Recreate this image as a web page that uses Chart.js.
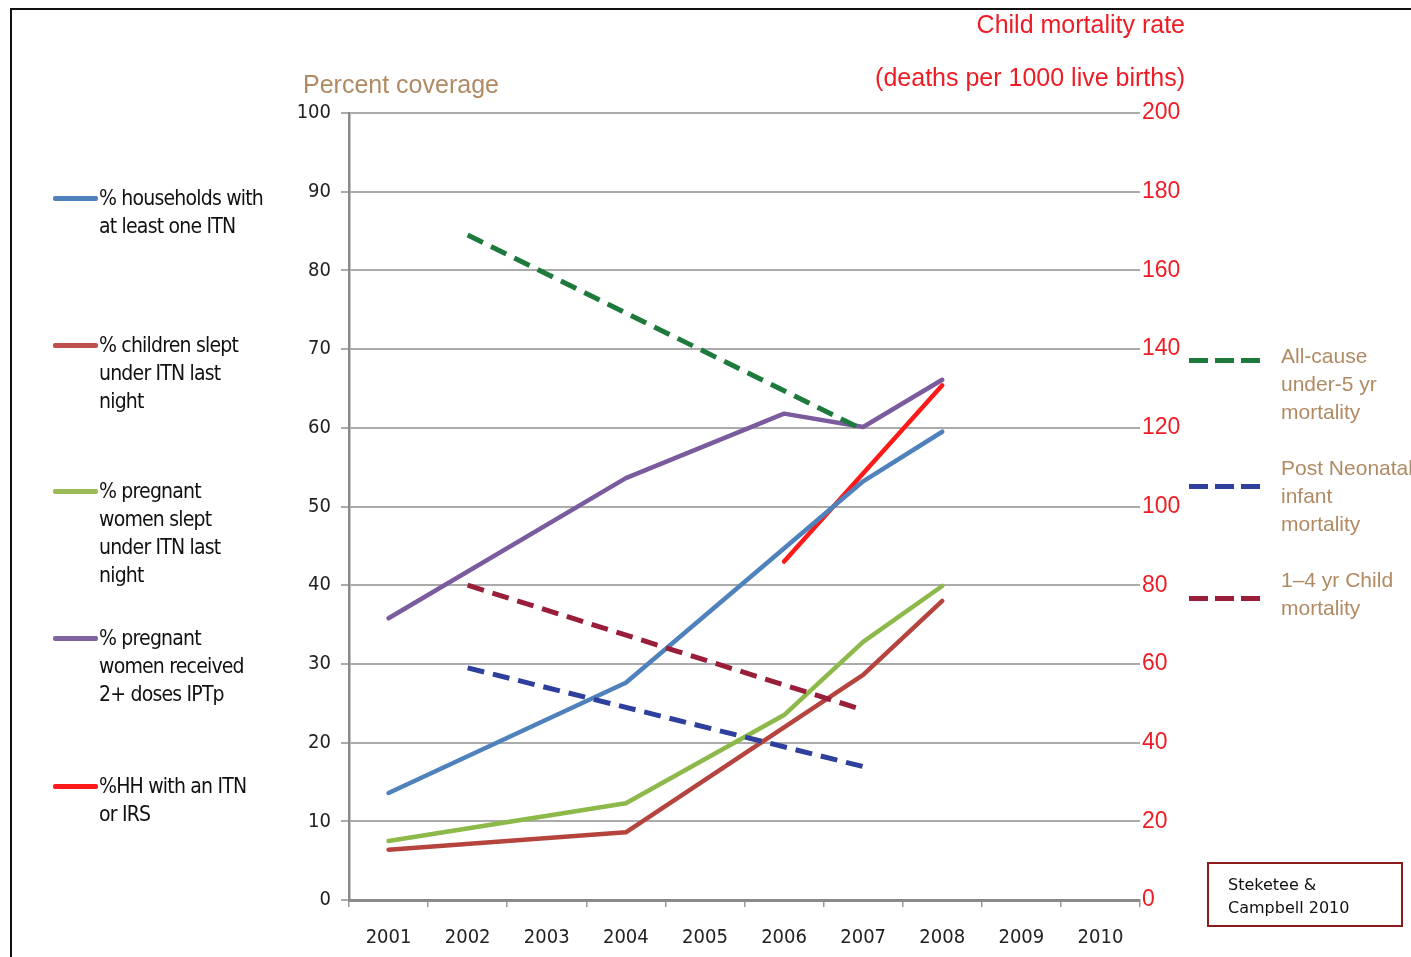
<!DOCTYPE html>
<html>
<head>
<meta charset="utf-8">
<script src="https://cdn.jsdelivr.net/npm/chart.js@4/dist/chart.umd.min.js"></script>
<style>
  html, body { margin:0; padding:0; background:#fff; width:1411px; height:957px; overflow:hidden; }
  #frame { position:absolute; left:10px; top:8px; width:1500px; height:1100px; border:2px solid #111; box-sizing:border-box; }
  #c { position:absolute; left:0; top:0; }
  .t { position:absolute; white-space:nowrap; }
  .narrow { font-family:"Liberation Sans Narrow","DejaVu Sans Condensed","Liberation Sans",sans-serif; color:#111; font-size:21px; letter-spacing:-0.8px; line-height:28px; }
  .tan { font-family:"Liberation Sans",Arial,sans-serif; color:#B08A62; font-size:21px; line-height:28px; }
  .red { font-family:"Liberation Sans",Arial,sans-serif; color:#EE1C25; font-size:25px; }
  .sw { position:absolute; height:5px; border-radius:2px; }
  .dsw { position:absolute; width:74px; height:5px; }
  #src { position:absolute; left:1207px; top:862px; width:196px; height:65px; border:2px solid #8B1A1A; box-sizing:border-box; font-family:"DejaVu Sans",Verdana,sans-serif; font-size:16px; line-height:23px; color:#111; padding:9px 0 0 19px; }
</style>
</head>
<body>
<div id="frame"></div>
<canvas id="c" width="1411" height="957"></canvas>

<div class="t tan" style="left:303px;top:70px;font-size:25px;">Percent coverage</div>
<div class="t red" style="right:226px;top:10px;">Child mortality rate</div>
<div class="t red" style="right:226px;top:63px;">(deaths per 1000 live births)</div>

<div class="sw" style="left:53px;top:196px;width:45px;background:#4F81BD"></div>
<div class="t narrow" style="left:99px;top:184px;">% households with<br>at least one ITN</div>
<div class="sw" style="left:53px;top:343px;width:45px;background:#C0504D"></div>
<div class="t narrow" style="left:99px;top:331px;">% children slept<br>under ITN last<br>night</div>
<div class="sw" style="left:53px;top:489px;width:45px;background:#9BBB59"></div>
<div class="t narrow" style="left:99px;top:477px;">% pregnant<br>women slept<br>under ITN last<br>night</div>
<div class="sw" style="left:53px;top:636px;width:45px;background:#8064A2"></div>
<div class="t narrow" style="left:99px;top:624px;">% pregnant<br>women received<br>2+ doses IPTp</div>
<div class="sw" style="left:53px;top:784px;width:45px;background:#FF1A1A"></div>
<div class="t narrow" style="left:99px;top:772px;">%HH with an ITN<br>or IRS</div>

<div class="dsw" style="left:1189px;top:358px;background:repeating-linear-gradient(90deg,#1E7A3C 0 19px,transparent 19px 26px)"></div>
<div class="t tan" style="left:1281px;top:342px;">All-cause<br>under-5 yr<br>mortality</div>
<div class="dsw" style="left:1189px;top:484px;background:repeating-linear-gradient(90deg,#2E3F9E 0 19px,transparent 19px 26px)"></div>
<div class="t tan" style="left:1281px;top:454px;">Post Neonatal<br>infant<br>mortality</div>
<div class="dsw" style="left:1189px;top:596px;background:repeating-linear-gradient(90deg,#981E3A 0 19px,transparent 19px 26px)"></div>
<div class="t tan" style="left:1281px;top:566px;">1–4 yr Child<br>mortality</div>

<div id="src">Steketee &amp;<br>Campbell 2010</div>

<script>
const years = ['2001','2002','2003','2004','2005','2006','2007','2008','2009','2010'];
const leftTicks = [0,10,20,30,40,50,60,70,80,90,100];
const rightTicks = [0,20,40,60,80,100,120,140,160,180,200];

// Percent coverage (left axis)
const hhAtLeastOneItn   = [13.6, null, null, 27.6, null, null, 53.2, 59.5, null, null];
const childrenSleptItn  = [6.4,  null, null, 8.6,  null, null, 28.6, 38.0, null, null];
const pregnantSleptItn  = [7.5,  null, null, 12.3, null, 23.5, 32.8, 39.9, null, null];
const pregnantIptp      = [35.8, null, null, 53.6, null, 61.8, 60.1, 66.1, null, null];
const hhItnOrIrs        = [null, null, null, null, null, 43.0, null, 65.4, null, null];

// Child mortality rate (right axis)
const under5Mortality   = [null, 169, null, null, null, null, 119.5, null, null, null];
const postNeonatal      = [null, 59,  null, null, null, null, 33.9,  null, null, null];
const child14Mortality  = [null, 80,  null, null, null, null, 48.3,  null, null, null];

const solid = (label, data, color) => ({
  label, data, yAxisID:'y', borderColor:color, backgroundColor:color,
  borderWidth:4.5, pointRadius:0, spanGaps:true, tension:0,
  borderCapStyle:'round', borderJoinStyle:'round'
});
const dashed = (label, data, color) => ({
  label, data, yAxisID:'y2', borderColor:color, backgroundColor:color,
  borderWidth:5, pointRadius:0, spanGaps:true, tension:0,
  borderDash:[17,9], borderCapStyle:'butt'
});

const narrowFont = '"Liberation Sans Narrow","DejaVu Sans Condensed","Liberation Sans",sans-serif';

new Chart(document.getElementById('c'), {
  type:'line',
  data:{
    labels:years,
    datasets:[
      dashed('All-cause under-5 yr mortality', under5Mortality, '#1E7A3C'),
      dashed('Post Neonatal infant mortality', postNeonatal, '#2E3F9E'),
      dashed('1–4 yr Child mortality', child14Mortality, '#981E3A'),
      solid('% households with at least one ITN', hhAtLeastOneItn, '#4F81BD'),
      solid('% children slept under ITN last night', childrenSleptItn, '#B5443F'),
      solid('% pregnant women slept under ITN last night', pregnantSleptItn, '#8DB84A'),
      solid('% pregnant women received 2+ doses IPTp', pregnantIptp, '#7A5C9E'),
      solid('%HH with an ITN or IRS', hhItnOrIrs, '#FF1A1A')
    ]
  },
  options:{
    responsive:false, animation:false, devicePixelRatio:1,
    layout:{ padding:{ left:0, top:113, right:201, bottom:0 } },
    plugins:{ legend:{display:false}, tooltip:{enabled:false}, title:{display:false} },
    scales:{
      x:{
        offset:true,
        grid:{ drawOnChartArea:false, offset:true, tickLength:7, color:'#999', lineWidth:1.5 },
        border:{ color:'#8A8A8A', width:3 },
        ticks:{ autoSkip:false, maxRotation:0, padding:19, color:'#222', font:{ family:narrowFont, size:20 } },
        afterFit:(s)=>{ s.height = 57; }
      },
      y:{
        position:'left', min:0, max:100,
        afterBuildTicks:(s)=>{ s.ticks = leftTicks.map(v=>({value:v})); },
        grid:{ color:'#ABABAB', lineWidth:2, tickLength:8 },
        border:{ color:'#8A8A8A', width:2.5 },
        ticks:{ padding:10, color:'#222', font:{ family:narrowFont, size:20 } },
        afterFit:(s)=>{ s.width = 349; }
      },
      y2:{
        position:'right', min:0, max:200,
        afterBuildTicks:(s)=>{ s.ticks = rightTicks.map(v=>({value:v})); },
        grid:{ drawOnChartArea:false, drawTicks:false },
        border:{ display:false },
        ticks:{ padding:2, color:'#EE1C25', font:{ family:'"Liberation Sans",Arial,sans-serif', size:23 } },
        afterFit:(s)=>{ s.width = 70; }
      }
    }
  }
});
</script>
</body>
</html>
